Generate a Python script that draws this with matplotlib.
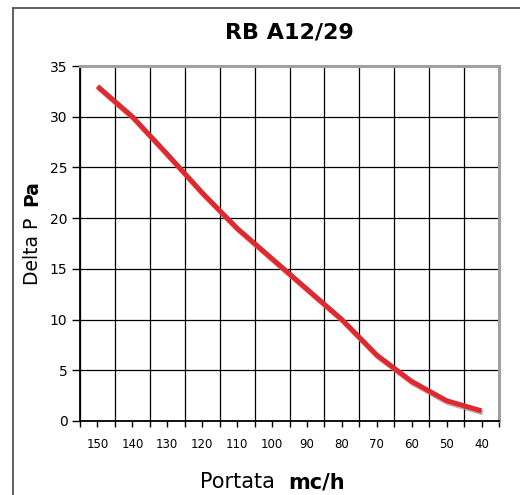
import matplotlib
matplotlib.use("Agg")
import matplotlib.pyplot as plt
import matplotlib.patheffects as pe
from matplotlib.lines import Line2D
import numpy as np

PORTATA = ["150", "140", "130", "120", "110", "100", "90", "80", "70", "60", "50", "40"]
DELTA_P = [33, 30, 26.3, 22.5, 19, 16, 13, 10, 6.5, 3.9, 2, 1]

W, H = 520, 495
fig = plt.figure(figsize=(W / 100, H / 100), dpi=100)
ax = fig.add_axes([80 / W, 1 - 421 / H, 419 / W, 355 / H])

x = np.arange(len(PORTATA))
ax.plot(x, DELTA_P, color="#E0282E", lw=3.6, solid_capstyle="butt",
        path_effects=[pe.SimpleLineShadow(offset=(1, -1.5), shadow_color="#999999", alpha=0.7),
                      pe.Normal()], zorder=5)

ax.set_xlim(-0.5, len(PORTATA) - 0.5)
ax.set_ylim(0, 35)
ax.set_yticks(range(0, 36, 5))
ax.set_xticks(np.arange(len(PORTATA) + 1) - 0.5)
ax.set_xticklabels([])
ax.set_xticks(x, minor=True)
ax.set_xticklabels(PORTATA, minor=True, fontsize=8.5)
ax.tick_params(axis="x", which="both", direction="out", length=4, width=1, pad=8, color="black")
ax.tick_params(axis="y", direction="out", length=6, width=1, labelsize=10, pad=3)

ax.grid(True, which="major", color="black", lw=0.9)
for s in ("left", "bottom"):
    ax.spines[s].set_color("black")
    ax.spines[s].set_linewidth(1.3)
for s in ("top", "right"):
    ax.spines[s].set_color("#a0a0a0")
    ax.spines[s].set_linewidth(2.2)

# title and axis labels (mixed weight)
fig.text(289 / W, 1 - 33 / H, "RB A12/29", ha="center", va="center",
         fontsize=16, fontweight="bold")
fig.text(288 / W, 1 - 482 / H, "Portata  ", ha="right", va="center", fontsize=15)
fig.text(288 / W, 1 - 482 / H, "mc/h", ha="left", va="center", fontsize=15, fontweight="bold")
fig.text(32 / W, 1 - 206 / H, "Delta P  ", ha="center", va="top", rotation=90, fontsize=13.5)
fig.text(32 / W, 1 - 206 / H, "Pa", ha="center", va="bottom", rotation=90, fontsize=13.5,
         fontweight="bold")

# outer frame (top and left edges only)
fig.add_artist(Line2D([13 / W, 1], [1 - 8 / H, 1 - 8 / H], color="#555555", lw=1.3))
fig.add_artist(Line2D([13 / W, 13 / W], [0, 1 - 8 / H], color="#555555", lw=1.3))

fig.savefig("out.png", dpi=100)
